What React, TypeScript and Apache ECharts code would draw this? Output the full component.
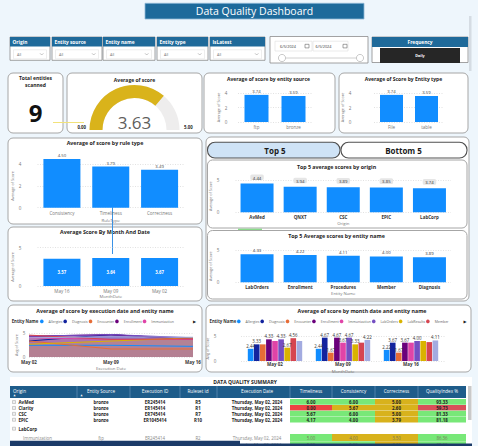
import React, { useEffect, useRef } from 'react';
import * as echarts from 'echarts';

const FONT = '"Open Sans", "Noto Sans", sans-serif';
const BLUE = '#118DFF';
const HEAD = '#1F6A9A';

// ---------- data ----------
const totalEntities = 9;
const averageScore = 3.63;
const gaugeMin = 0;
const gaugeMax = 5;

const entitySourceCats = ['ftp', 'bronze'];
const entitySourceScores = [3.74, 3.59];
const entityTypeCats = ['File', 'table'];
const entityTypeScores = [3.74, 3.59];
const ruleTypeCats = ['Consistency', 'Timeliness', 'Correctness'];
const ruleTypeScores = [4.5, 3.79, 3.49];
const monthDateCats = ['May 16', 'May 09', 'May 02'];
const monthDateScores = [3.57, 3.64, 3.67];
const topOriginCats = ['AvMed', 'QNXT', 'CSC', 'EPIC', 'LabCorp'];
const topOriginScores = [4.44, 3.94, 3.89, 3.85, 3.74];
const topEntityCats = ['LabOrders', 'Enrollment', 'Procedures', 'Member', 'Diagnosis'];
const topEntityScores = [4.33, 4.22, 4.11, 4.0, 3.89];

const execDates = ['May 02', 'May 09', 'May 16'];
const entityNames = ['Allergies', 'Diagnosis', 'Encounter', 'Enrollment', 'Immunization', 'LabOrders', 'LabResults', 'Member', 'Procedures'];
const allergiesScores = [2.44, 2.44, 2.22];
const diagnosisScores = [3.33, 4.67, 3.67];
const encounterScores = [3.33, 1.67, 1.67];
const enrollmentScores = [4.33, 4.67, 3.67];
const immunizationScores = [4.0, 3.67, 3.67];
const labOrdersScores = [4.33, 4.67, 4.0];
const labResultsScores = [2.67, 3.33, 4.0];
const memberScores = [4.56, 3.67, 3.78];
const proceduresScores = [4.0, 4.22, 4.11];
const entityScores = [allergiesScores, diagnosisScores, encounterScores, enrollmentScores, immunizationScores, labOrdersScores, labResultsScores, memberScores, proceduresScores];
const entityColors = ['#118DFF', '#12239E', '#E66C37', '#6B007B', '#E044A7', '#744EC2', '#D9B300', '#D64550', '#A3ABE0'];

const slicerTitles = ['Origin', 'Entity source', 'Entity name', 'Entity type', 'IsLatest'];
const dateFrom = '6/5/2024';
const dateTo = '6/5/2024';
const frequencyValue = 'Daily';

const tableHeaders = ['Origin', 'Entity Source', 'Execution ID', 'Ruleset id', 'Execution Date', 'Timeliness', 'Consistency', 'Correctness', 'QualityIndex %'];
const tableOrigins = ['AvMed', 'Clarity', 'CSC', 'EPIC', 'LabCorp', 'Immunization', 'LabOrders'];
const tableSources = ['bronze', 'bronze', 'bronze', 'bronze', '', 'ftp', 'ftp'];
const tableExecIds = ['ER245414', 'ER145414', 'ER745414', 'ER1045414', '', 'ER245414', 'ER345414'];
const tableRulesets = ['R5', 'R1', 'R7', 'R10', '', 'R2', 'R3'];
const tableDates = ['Thursday, May 02, 2024', 'Thursday, May 02, 2024', 'Thursday, May 02, 2024', 'Thursday, May 02, 2024', '', 'Thursday, May 02, 2024', 'Thursday, May 02, 2024'];
const timeliness = [6.0, 0.0, 5.67, 4.17, null, 5.0, 5.0];
const consistency = [6.0, 5.67, 6.0, 4.0, null, 4.0, 5.0];
const correctness = [5.0, 2.6, 5.0, 3.79, null, 3.5, 3.0];
const qualityIndex = [93.33, 59.73, 81.33, 81.18, null, 86.36, 85.0];
const timelinessFlags = ['g', 'r', 'g', 'g', '', 'g', 'g'];
const consistencyFlags = ['g', 'y', 'g', 'g', '', 'y', 'g'];
const correctnessFlags = ['y', 'y', 'y', 'y', '', 'y', 'y'];
const qualityFlags = ['g', 'r', 'g', 'g', '', 'g', 'g'];

function buildOption() {
  const G: any[] = [];
  const rect = (x: number, y: number, w: number, h: number, fill: string, stroke = 'none', r = 0, lw = 1) =>
    G.push({ type: 'rect', silent: true, shape: { x, y, width: w, height: h, r }, style: { fill, stroke, lineWidth: lw } });
  const txt = (x: number, y: number, text: string, size: number, color: string, weight: any = 'normal', align = 'center', family = FONT) =>
    G.push({
      type: 'text', silent: true, x, y,
      style: { text, fill: color, fontSize: size, fontWeight: weight, fontFamily: family, textAlign: align, textVerticalAlign: 'middle', align, verticalAlign: 'middle' },
    });
  const line = (x1: number, y1: number, x2: number, y2: number, color: string, lw = 1) =>
    G.push({ type: 'line', silent: true, shape: { x1, y1, x2, y2 }, style: { stroke: color, lineWidth: lw } });
  const card = (x: number, y: number, w: number, h: number) => rect(x, y, w, h, '#FFFFFF', '#A6A6A6', 5, 1);

  // title
  rect(145, 3.3, 219, 15.7, '#1D6A9B', '#8DB8D6', 0, 0.8);
  txt(254.5, 11.3, 'Data Quality Dashboard', 10.5, '#FFFFFF', 'normal');

  // scrollbar strip
  rect(469, 16, 2.5, 55, '#D5DCE3');

  // slicers
  const slX = [[10, 50], [52, 102], [103, 155], [157, 208], [210, 265]];
  slicerTitles.forEach((t, i) => {
    const [a, b] = slX[i];
    rect(a, 37, b - a, 23.3, '#FFFFFF', '#8C8C8C', 0, 0.8);
    rect(a, 37, b - a, 9.5, HEAD);
    txt(a + 2.5, 41.9, t, 4.8, '#FFFFFF', 'bold', 'left');
    rect(a + 3.5, 49.8, b - a - 7, 9, '#FFFFFF', '#E3E3E3', 0, 0.6);
    txt(a + 7, 54.3, 'All', 3.8, '#7A7A7A', 'normal', 'left');
    G.push({ type: 'polyline', silent: true, shape: { points: [[b - 10, 53.3], [b - 8.3, 55], [b - 6.6, 53.3]] }, style: { stroke: '#9A9A9A', lineWidth: 0.6, fill: 'none' } });
  });
  // date slicer
  rect(270, 36.5, 98, 26.5, '#FFFFFF', '#8C8C8C', 0, 0.8);
  rect(275, 41.2, 37, 9.8, '#FFFFFF', '#DDDDDD', 0, 0.6);
  rect(313, 41.2, 35, 9.8, '#FFFFFF', '#DDDDDD', 0, 0.6);
  txt(288, 46.2, dateFrom, 3.8, '#333333', 'normal');
  txt(323.5, 46.2, dateTo, 3.8, '#333333', 'normal');
  rect(305, 44.3, 4, 3.6, '#FFFFFF', '#666666', 0, 0.6);
  rect(343, 44.3, 4, 3.6, '#FFFFFF', '#666666', 0, 0.6);
  line(282, 58, 360, 58, '#D0D0D0', 1);
  G.push({ type: 'circle', silent: true, shape: { cx: 282, cy: 58, r: 3.6 }, style: { fill: '#FFFFFF', stroke: '#BDBDBD', lineWidth: 0.8 } });
  G.push({ type: 'circle', silent: true, shape: { cx: 360, cy: 58, r: 3.6 }, style: { fill: '#FFFFFF', stroke: '#BDBDBD', lineWidth: 0.8 } });
  // frequency
  rect(372, 37, 96, 25.5, '#FFFFFF', '#8C8C8C', 0, 0.8);
  rect(372, 37, 96, 10, HEAD);
  txt(420, 42, 'Frequency', 4.8, '#FFFFFF', 'bold');
  rect(380, 48, 80, 15, '#262626');
  txt(420, 55.7, frequencyValue, 3.8, '#FFFFFF', 'bold');

  // row 2 cards
  card(8, 73, 55, 60);
  card(67, 73, 135, 60);
  card(204, 73, 131, 60);
  card(339, 73, 129, 60);
  txt(35.5, 78.2, 'Total entities', 5, '#252423', 'bold');
  txt(35.5, 84.6, 'scanned', 5, '#252423', 'bold');
  txt(35.5, 112, String(totalEntities), 24, '#111111', 'bold');
  line(53, 122.5, 84, 122.5, '#F2E27A', 1);
  txt(134.5, 79.5, 'Average of score', 5, '#252423', 'bold');
  txt(81.7, 127.3, gaugeMin.toFixed(2), 4.3, '#252423', 'bold');
  txt(188.3, 127.3, gaugeMax.toFixed(2), 4.3, '#252423', 'bold');
  txt(268.5, 79.3, 'Average of score by entity source', 5, '#252423', 'bold');
  txt(403.5, 79.3, 'Average of Score by Entity type', 5, '#252423', 'bold');

  // row 3 left
  card(8, 138, 194, 86);
  txt(105, 142.8, 'Average of score by rule type', 5.3, '#252423', 'bold');
  card(8, 227, 194, 74);
  txt(105, 232, 'Average Score By Month And Date', 5.3, '#252423', 'bold');
  line(112.5, 206, 112.5, 254, '#3A92E6', 1);

  // top5 container
  card(206, 137, 263, 164);
  rect(207.5, 142.3, 132.5, 15.7, '#CFE3F6', '#505050', 7.5, 1.1);
  rect(341, 142.3, 126, 15.7, '#FFFFFF', '#505050', 7.5, 1.1);
  txt(275, 150.6, 'Top 5', 8, '#1A1A1A', 'bold');
  txt(403.5, 150.6, 'Bottom 5', 8, '#1A1A1A', 'bold');
  card(207.5, 160, 259.5, 68);
  txt(336.5, 166.5, 'Top 5 average scores by origin', 5.3, '#252423', 'bold');
  card(207.5, 230.5, 259.5, 68.5);
  txt(336.5, 235.8, 'Top 5 Average scores by entity name', 5.3, '#252423', 'bold');
  line(238, 229.3, 262, 229.3, '#7CD67C', 1.2);

  // row 4
  card(8, 305, 194, 67);
  txt(105, 311, 'Average of score by execution date and entity name', 5.3, '#252423', 'bold');
  txt(11.7, 321.2, 'Entity Name', 4.3, '#333333', 'bold', 'left');
  txt(194.5, 321.2, '▶', 4, '#222222', 'normal', 'center', 'DejaVu Sans');
  card(206, 305, 265, 67);
  txt(362, 311, 'Average of score by month date and entity name', 5.3, '#252423', 'bold');
  txt(209.5, 321.2, 'Entity Name', 4.3, '#333333', 'bold', 'left');
  txt(465, 321.2, '▶', 4, '#222222', 'normal', 'center', 'DejaVu Sans');

  // table
  rect(10, 377, 462, 69, '#FFFFFF');
  txt(245, 382.2, 'DATA QUALITY SUMMARY', 5, '#222222', 'bold');
  const colX = [10, 77, 130, 180, 217, 290, 332, 375, 418, 466];
  const colC = [13, 101, 155, 198, 257, 311, 353.5, 396.5, 442];
  rect(10, 386, 456, 12, '#1E5C8A');
  for (let c = 1; c < colX.length - 1; c++) line(colX[c], 386, colX[c], 398, '#6F9CC0', 0.6);
  tableHeaders.forEach((h, c) => txt(colC[c], 391, h, 4.6, '#FFFFFF', 'normal', c === 0 ? 'left' : 'center'));
  txt(13.5, 395.8, '▲', 2.6, '#FFFFFF', 'normal', 'left', 'DejaVu Sans');
  txt(80.5, 395.8, '▲', 2.6, '#FFFFFF', 'normal', 'left', 'DejaVu Sans');
  const rowTop = [399, 404.9, 410.8, 416.7, 423.5, 434, 441.3];
  const rowH = [5.7, 5.7, 5.7, 5.7, 10, 7, 6];
  const flagColor: any = { g: '#78E878', r: '#EE4343', y: '#D8B21C' };
  const numCols = [timeliness, consistency, correctness, qualityIndex];
  const flagCols = [timelinessFlags, consistencyFlags, correctnessFlags, qualityFlags];
  tableOrigins.forEach((o, r) => {
    const top = rowTop[r];
    const cy = top + rowH[r] / 2 + 0.2;
    const child = r >= 5;
    const col = child ? '#8A8A8A' : '#222222';
    const wt = child ? 'normal' : 'bold';
    numCols.forEach((arr, k) => {
      const f = flagCols[k][r];
      if (f) {
        let fill = flagColor[f];
        if (k === 3 && f === 'r') fill = '#D9505A';
        rect(colX[5 + k], top, colX[6 + k] - colX[5 + k], rowH[r], fill);
      }
      const v = arr[r];
      if (v !== null && v !== undefined) txt(colC[5 + k], cy, (v as number).toFixed(2), 4.4, child ? '#7A7A5A' : '#222222', wt);
    });
    if (!child) {
      rect(12.5, cy - 1.5, 3, 3, '#F0F0F0', '#A0A0A0', 0, 0.5);
      txt(18.5, cy, o, 4.5, col, 'bold', 'left');
    } else {
      txt(23, cy, o, 4.5, col, 'normal', 'left');
    }
    txt(colC[1], cy, tableSources[r], 4.4, col, wt);
    txt(colC[2], cy, tableExecIds[r], 4.4, col, wt);
    txt(colC[3], cy, tableRulesets[r], 4.4, col, wt);
    txt(colC[4], cy, tableDates[r], 4.4, col, wt);
  });
  rect(468, 386, 3.5, 34, '#C9C9C9');
  rect(10, 440.7, 230, 5.3, '#1B3A68');
  rect(240, 443.6, 232, 2.4, '#1B3A68');

  // ---------- axes ----------
  const grids = [
    { left: 238, top: 93, width: 74, height: 29 },
    { left: 374, top: 93, width: 70, height: 29 },
    { left: 37.5, top: 164.3, width: 146.5, height: 43.4 },
    { left: 37.5, top: 247.7, width: 146.5, height: 38.3 },
    { left: 235.5, top: 180, width: 215.5, height: 32.3 },
    { left: 235.5, top: 250, width: 215.5, height: 32.3 },
    { left: 29, top: 333, width: 164, height: 24 },
    { left: 241, top: 336, width: 204, height: 25 },
  ].map((g) => ({ ...g, containLabel: false, outerBoundsMode: 'none' }));

  const xCat = (gi: number, data: string[], margin: number, name = '', nameGap = 8, color = '#777777', weight: any = 'normal', boundaryGap = true) => ({
    type: 'category', gridIndex: gi, data, boundaryGap,
    axisLine: { show: false }, axisTick: { show: false },
    axisLabel: { fontSize: 4.5, color, margin, fontWeight: weight, fontFamily: FONT, interval: 0 },
    name, nameLocation: 'middle', nameGap, nameTextStyle: { fontSize: 4.3, color: '#777777', fontFamily: FONT },
  });
  const yVal = (gi: number, max: number, interval: number, margin: number, name: string, nameGap: number) => ({
    type: 'value', gridIndex: gi, min: 0, max, interval,
    axisLine: { show: false }, axisTick: { show: false },
    axisLabel: { fontSize: 4.5, color: '#777777', margin, fontFamily: FONT },
    splitLine: { lineStyle: { color: '#D6D6D6', type: [1, 1.5], width: 0.7 } },
    name, nameLocation: 'middle', nameRotate: 90, nameGap,
    nameTextStyle: { fontSize: 3.8, color: '#777777', fontFamily: FONT },
  });

  const xAxis = [
    xCat(0, entitySourceCats, 2.5),
    xCat(1, entityTypeCats, 2.5),
    xCat(2, ruleTypeCats, 3.1, 'RuleType', 10.3),
    xCat(3, monthDateCats, 2.5, 'MonthDate', 8),
    xCat(4, topOriginCats, 2.2, 'Origin', 8.7, '#333333', 'bold'),
    xCat(5, topEntityCats, 2.2, 'Entity Name', 8.7, '#333333', 'bold'),
    xCat(6, execDates, 2.5, 'Execution Date', 9.3, '#333333', 'bold', false),
    xCat(7, execDates, 0.8, 'MonthDate', 8, '#333333', 'bold'),
  ];
  const yAxis = [
    yVal(0, 4, 2, 10.7, 'Average of Score', 16),
    yVal(1, 4, 2, 22.7, 'Average of Score', 28),
    yVal(2, 4, 2, 16.2, 'Average of Score', 22.5),
    yVal(3, 5, 5, 16.2, 'Average of Score', 22.8),
    yVal(4, 5, 5, 16.2, 'Average of Score', 21.5),
    yVal(5, 5, 5, 16.2, 'Average of Score', 21.5),
    yVal(6, 5, 5, 3.7, 'Avg of Score', 10),
    yVal(7, 5, 5, 24.7, 'Avg of Score', 29),
  ];

  const fmt = (p: any) => Number(p.value).toFixed(2);
  const bar = (gi: number, data: number[], width: number, label: any) => ({
    type: 'bar', xAxisIndex: gi, yAxisIndex: gi, data, barWidth: width, clip: false, silent: true,
    itemStyle: { color: BLUE },
    label: { show: true, position: 'top', fontSize: 4.3, color: '#444444', distance: 2, formatter: fmt, fontFamily: FONT, ...label },
  });

  const series: any[] = [
    bar(0, entitySourceScores, 24, {}),
    bar(1, entityTypeScores, 23, {}),
    bar(2, ruleTypeScores, 37, {}),
    bar(3, monthDateScores, 37, { position: 'inside', color: '#FFFFFF', fontWeight: 'bold' }),
    bar(4, topOriginScores, 33, { backgroundColor: '#E6E6E6', padding: [1, 2.5, 0.6, 2.5], borderRadius: 1.5, distance: 3.5, color: '#333333' }),
    bar(5, topEntityScores, 33, { color: '#333333' }),
    {
      type: 'gauge', center: [134.5, 130], radius: 45, startAngle: 180, endAngle: 0, min: gaugeMin, max: gaugeMax, silent: true,
      progress: { show: true, width: 13, itemStyle: { color: '#D9B31B' } },
      axisLine: { lineStyle: { width: 13, color: [[1, '#EEEDED']] } },
      pointer: { show: false }, axisTick: { show: false }, splitLine: { show: false }, axisLabel: { show: false },
      anchor: { show: false }, title: { show: false },
      detail: { offsetCenter: [0, -8], fontSize: 17, color: '#605E5C', fontFamily: FONT, fontWeight: 'normal', formatter: (v: number) => v.toFixed(2) },
      data: [{ value: averageScore }],
    },
  ];
  entityNames.forEach((name, i) => {
    series.push({
      type: 'line', name, xAxisIndex: 6, yAxisIndex: 6, data: entityScores[i], symbol: 'none', silent: true,
      lineStyle: { width: 1, color: entityColors[i] }, itemStyle: { color: entityColors[i] },
      areaStyle: { color: entityColors[i], opacity: 0.42 },
      label: { show: true, position: 'top', fontSize: 4.2, color: '#444444', distance: 1, formatter: fmt, fontFamily: FONT },
      labelLayout: { hideOverlap: true },
    });
  });
  entityNames.forEach((name, i) => {
    series.push({
      type: 'bar', name, xAxisIndex: 7, yAxisIndex: 7, data: entityScores[i], silent: true,
      barGap: '8%', barCategoryGap: '20%', itemStyle: { color: entityColors[i] },
      label: { show: true, position: 'top', fontSize: 4.4, color: '#333333', distance: 1, formatter: fmt, fontFamily: FONT },
      labelLayout: { hideOverlap: true },
    });
  });

  const legendBase = {
    icon: 'circle', itemWidth: 3.6, itemHeight: 3.6, itemGap: 1, padding: 0, top: 319.4, width: 260,
    selectedMode: false, textStyle: { fontSize: 3.5, color: '#666666', fontFamily: FONT },
  };

  return {
    animation: false,
    backgroundColor: '#EEF6FC',
    textStyle: { fontFamily: FONT },
    graphic: { elements: G },
    grid: grids,
    xAxis,
    yAxis,
    legend: [
      { ...legendBase, left: 40, data: entityNames.slice(0, 5) },
      { ...legendBase, left: 237, data: entityNames.slice(0, 8) },
    ],
    series,
  };
}

export default function App() {
  const ref = useRef<HTMLDivElement>(null);
  useEffect(() => {
    const chart = echarts.init(ref.current as HTMLDivElement, null, { renderer: 'svg' });
    chart.setOption(buildOption() as any);
    return () => chart.dispose();
  }, []);
  return <div ref={ref} style={{ position: 'absolute', left: 0, top: 0, width: 478, height: 446 }} />;
}
